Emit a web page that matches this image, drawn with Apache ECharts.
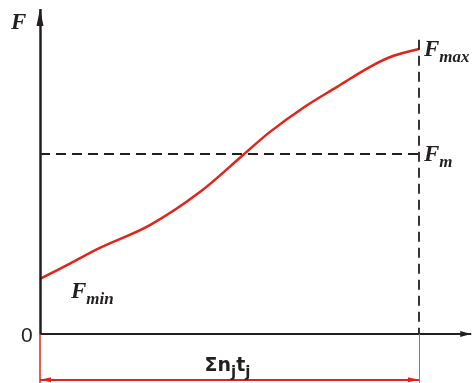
<!DOCTYPE html>
<html>
<head>
<meta charset="utf-8">
<script src="https://cdn.jsdelivr.net/npm/echarts@6/dist/echarts.min.js"></script>
<style>
  html, body { margin: 0; padding: 0; background: #fff; }
  #chart { width: 473px; height: 383px; }
</style>
</head>
<body>
<div id="chart"></div>
<script>
// Load curve F(t): cumulative time share on x, normalised force on y
const tValues = [0, 0.079, 0.158, 0.290, 0.422, 0.536, 0.607, 0.694, 0.784, 0.871, 0.931, 1.0];
const fValues = [0.193, 0.247, 0.302, 0.382, 0.498, 0.628, 0.709, 0.793, 0.867, 0.937, 0.975, 1.0];

// Characteristic levels
const F_MIN = 0.193;
const F_M = 0.632;
const F_MAX = 1.0;
const T_END = 1.0;

// Axis extents (axes are drawn as arrows, tips at the far ends)
const X_MAX = 1.14;
const Y_MAX = 1.14;
const Y_MIN = -0.172;
const X_TIP = 1.138;        // tip of the time-axis arrow
const Y_TIP = 1.14;         // tip of the force-axis arrow
const Y_BRACKET = -0.161;   // level of the Σnⱼtⱼ dimension arrow
const Y_DASH_TOP = 1.032;   // top of the dashed end-of-cycle line

const BLACK = '#231f20';
const RED = '#e2231a';
const SERIF = '"Liberation Serif", "Times New Roman", serif';

const italic = {
  f: { fontFamily: SERIF, fontStyle: 'italic', fontWeight: 'bold', fontSize: 23, color: BLACK, lineHeight: 24, verticalAlign: 'top' },
  s: { fontFamily: SERIF, fontStyle: 'italic', fontWeight: 'bold', fontSize: 17, color: BLACK, lineHeight: 27, verticalAlign: 'bottom' }
};

function note(coord, text, pos, extra) {
  return Object.assign({
    coord: coord,
    symbol: 'circle',
    symbolSize: 0,
    label: { show: true, position: pos, formatter: text, rich: italic }
  }, extra || {});
}

function seg(a, b, style, endSymbols) {
  const es = endSymbols || [{}, {}];
  return [
    { coord: a, symbol: es[0].symbol || 'none', symbolSize: es[0].size || 0, lineStyle: style },
    { coord: b, symbol: es[1].symbol || 'none', symbolSize: es[1].size || 0 }
  ];
}

// Arrow head whose tip sits on the line end (lower half of the box is the head)
const spike = 'path://M5,-20 M5,0 L10,20 L0,20 Z';

const chart = echarts.init(document.getElementById('chart'), null, { renderer: 'canvas' });

chart.setOption({
  animation: false,
  backgroundColor: '#ffffff',
  grid: { left: 40, right: 1, top: 9, bottom: 0, containLabel: false },
  xAxis: { type: 'value', min: 0, max: X_MAX, show: false },
  yAxis: { type: 'value', min: Y_MIN, max: Y_MAX, show: false },
  series: [{
    type: 'line',
    data: tValues.map((t, i) => [t, fValues[i]]),
    smooth: 0.35,
    showSymbol: false,
    clip: false,
    lineStyle: { color: RED, width: 2.5 },
    markLine: {
      silent: true,
      animation: false,
      label: { show: false },
      emphasis: { disabled: true },
      data: [
        // F axis
        seg([0, 0], [0, Y_TIP], { color: BLACK, width: 2.5, type: 'solid' },
            [{}, { symbol: spike, size: [7, 34] }]),
        // time axis
        seg([0, 0], [X_TIP, 0], { color: BLACK, width: 2, type: 'solid' },
            [{}, { symbol: spike, size: [6, 22] }]),
        // mean force level
        seg([0, F_M], [T_END, F_M], { color: BLACK, width: 1.8, type: [10, 6] }),
        // end of cycle
        seg([T_END, Y_DASH_TOP], [T_END, 0], { color: BLACK, width: 1.8, type: [10, 6] }),
        // dimension extension lines
        seg([0, 0], [0, Y_MIN], { color: RED, width: 1.5, type: 'solid' }),
        seg([T_END, 0], [T_END, Y_MIN], { color: '#e8545a', width: 1, type: 'solid' }),
        // dimension arrow Σnⱼtⱼ
        seg([0, Y_BRACKET], [T_END, Y_BRACKET], { color: RED, width: 2, type: 'solid' },
            [{ symbol: spike, size: [5, 22] }, { symbol: spike, size: [5, 22] }])
      ]
    },
    markPoint: {
      silent: true,
      animation: false,
      data: [
        note([0, Y_MAX], '{f|F}', [-29, 3]),
        note([T_END, F_MAX], '{f|F}{s|max}', [5, -10]),
        note([T_END, F_M], '{f|F}{s|m}', [5, -10]),
        note([0, F_MIN], '{f|F}{s|min}', [31, 2]),
        note([0, 0], '0', [-19, -8], {
          label: { show: true, position: [-19, -8], formatter: '0',
                   fontFamily: '"Liberation Sans", Arial, sans-serif', fontSize: 21, color: BLACK, lineHeight: 21 }
        }),
        note([0.5, Y_BRACKET], '{a|Σn}{b|j}{a|t}{b|j}', [-2, -23], {
          label: {
            show: true, position: [-2, -23], align: 'center',
            formatter: '{a|Σn}{b|j}{a|t}{b|j}',
            rich: {
              a: { fontFamily: '"DejaVu Sans", Verdana, sans-serif', fontWeight: 'bold', fontSize: 19, color: BLACK, lineHeight: 22, verticalAlign: 'top' },
              b: { fontFamily: '"DejaVu Sans", Verdana, sans-serif', fontWeight: 'bold', fontSize: 15, color: BLACK, lineHeight: 24, verticalAlign: 'bottom' }
            }
          }
        })
      ]
    }
  }]
});
</script>
</body>
</html>
